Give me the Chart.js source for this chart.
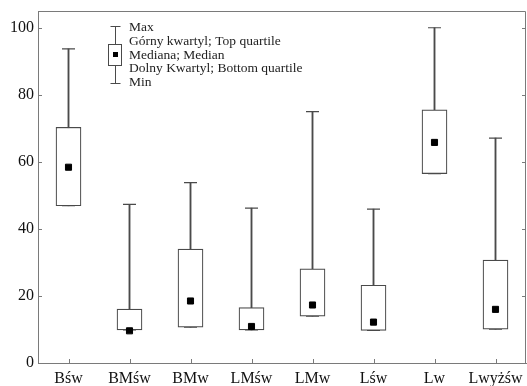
<!DOCTYPE html>
<html>
<head>
<meta charset="utf-8">
<script src="https://cdn.jsdelivr.net/npm/chart.js@4"></script>
<style>
  html, body { margin: 0; padding: 0; background: #fff; }
  #wrap { width: 527px; height: 386px; }
</style>
</head>
<body>
<div id="wrap"><canvas id="boxChart"></canvas></div>
<script>
// values
const categories = ['Bśw', 'BMśw', 'BMw', 'LMśw', 'LMw', 'Lśw', 'Lw', 'Lwyżśw'];
const maxValues = [93.7, 47.3, 53.8, 46.2, 75.0, 45.9, 100.0, 67.1];
const q3Values = [70.3, 16.1, 34.0, 16.5, 28.1, 23.2, 75.5, 30.7];
const medianValues = [58.4, 9.6, 18.5, 10.9, 17.3, 12.2, 65.8, 16.0];
const q1Values = [46.9, 9.85, 10.7, 9.85, 14.0, 9.75, 56.5, 10.1];
const minValues = [46.9, 9.85, 10.7, 9.85, 14.0, 9.75, 56.5, 10.1];
const yTicks = [0, 20, 40, 60, 80, 100];
const legendLabels = ['Max', 'Górny kwartyl; Top quartile', 'Mediana; Median', 'Dolny Kwartyl; Bottom quartile', 'Min'];

const FONT = '"Liberation Serif", "Times New Roman", serif';
const AXIS = '#7a7a7a';
const INK = '#4a4a4a';

const ctx = document.getElementById('boxChart').getContext('2d');

// frame, inward ticks and the little legend in the top left
const framePlugin = {
    id: 'frame',
    afterDraw(chart) {
        const c = chart.ctx;
        const a = chart.chartArea;
        const x = chart.scales.x;
        const y = chart.scales.y;
        c.save();
        c.strokeStyle = AXIS;
        c.lineWidth = 1;
        c.beginPath();
        c.moveTo(a.left + 0.5, a.top + 0.5);
        c.lineTo(a.right - 0.5, a.top + 0.5);
        c.lineTo(a.right - 0.5, a.bottom);
        c.stroke();
        c.beginPath();
        yTicks.forEach(v => {
            const py = Math.round(y.getPixelForValue(v)) + 0.5;
            c.moveTo(a.left, py);
            c.lineTo(a.left + 4, py);
            c.moveTo(a.right, py);
            c.lineTo(a.right - 4, py);
        });
        categories.forEach((_, i) => {
            const px = Math.round(x.getPixelForValue(i)) + 0.5;
            c.moveTo(px, a.bottom);
            c.lineTo(px, a.bottom - 4);
        });
        c.stroke();

        // legend
        const lx = 115.5;
        c.strokeStyle = INK;
        c.beginPath();
        c.moveTo(lx, 26.5); c.lineTo(lx, 83.5);
        c.moveTo(lx - 5, 26.5); c.lineTo(lx + 5, 26.5);
        c.moveTo(lx - 5, 83.5); c.lineTo(lx + 5, 83.5);
        c.stroke();
        c.fillStyle = '#fff';
        c.fillRect(108, 44, 14, 22);
        c.strokeRect(108.5, 44.5, 13, 21);
        c.fillStyle = '#000';
        c.fillRect(113, 52, 5, 5);
        c.fillStyle = '#222';
        c.font = '13.5px ' + FONT;
        c.textBaseline = 'middle';
        legendLabels.forEach((t, i) => {
            c.fillText(t, 129, 27.5 + i * 13.8);
        });
        c.restore();
    }
};

new Chart(ctx, {
    type: 'bar',
    data: {
        labels: categories,
        datasets: [
            {
                type: 'line',
                label: 'Median',
                data: medianValues,
                showLine: false,
                pointStyle: 'rect',
                pointRadius: 4.3,
                pointBackgroundColor: '#000',
                pointBorderColor: '#000',
                pointBorderWidth: 1,
                order: 0
            },
            {
                label: 'Box',
                data: q1Values.map((v, i) => [v, q3Values[i]]),
                backgroundColor: '#fff',
                borderColor: INK,
                borderWidth: 1.2,
                borderSkipped: false,
                barThickness: 25,
                grouped: false,
                order: 1
            },
            {
                type: 'line',
                label: 'Max cap',
                data: maxValues,
                showLine: false,
                pointStyle: 'line',
                pointRadius: 6.5,
                pointBorderColor: INK,
                pointBorderWidth: 1.2,
                order: 2
            },
            {
                type: 'line',
                label: 'Min cap',
                data: minValues,
                showLine: false,
                pointStyle: 'line',
                pointRadius: 6.5,
                pointBorderColor: INK,
                pointBorderWidth: 1.2,
                order: 2
            },
            {
                label: 'Whisker',
                data: minValues.map((v, i) => [v, maxValues[i]]),
                backgroundColor: INK,
                borderWidth: 0,
                barThickness: 1.2,
                grouped: false,
                order: 3
            }
        ]
    },
    options: {
        responsive: true,
        maintainAspectRatio: false,
        animation: false,
        layout: { autoPadding: false, padding: { left: 0, right: 1, top: 11, bottom: 0 } },
        plugins: {
            legend: { display: false },
            tooltip: { enabled: false }
        },
        scales: {
            x: {
                grid: { display: false, drawTicks: false, tickLength: 0 },
                border: { display: true, color: AXIS, width: 1 },
                ticks: {
                    color: '#111',
                    font: { family: FONT, size: 16 },
                    padding: 6,
                    maxRotation: 0
                },
                afterFit(scale) {
                    scale.height = 23;
                    scale.paddingLeft = 0;
                    scale.paddingRight = 0;
                }
            },
            y: {
                min: 0,
                max: 105,
                grid: { display: false, drawTicks: false, tickLength: 0 },
                border: { display: true, color: AXIS, width: 1 },
                ticks: {
                    stepSize: 20,
                    color: '#111',
                    font: { family: FONT, size: 16 },
                    padding: 4
                },
                afterBuildTicks(scale) {
                    scale.ticks = yTicks.map(v => ({ value: v }));
                },
                afterFit(scale) {
                    scale.width = 38;
                    scale.paddingTop = 0;
                    scale.paddingBottom = 0;
                }
            }
        }
    },
    plugins: [framePlugin]
});
</script>
</body>
</html>
